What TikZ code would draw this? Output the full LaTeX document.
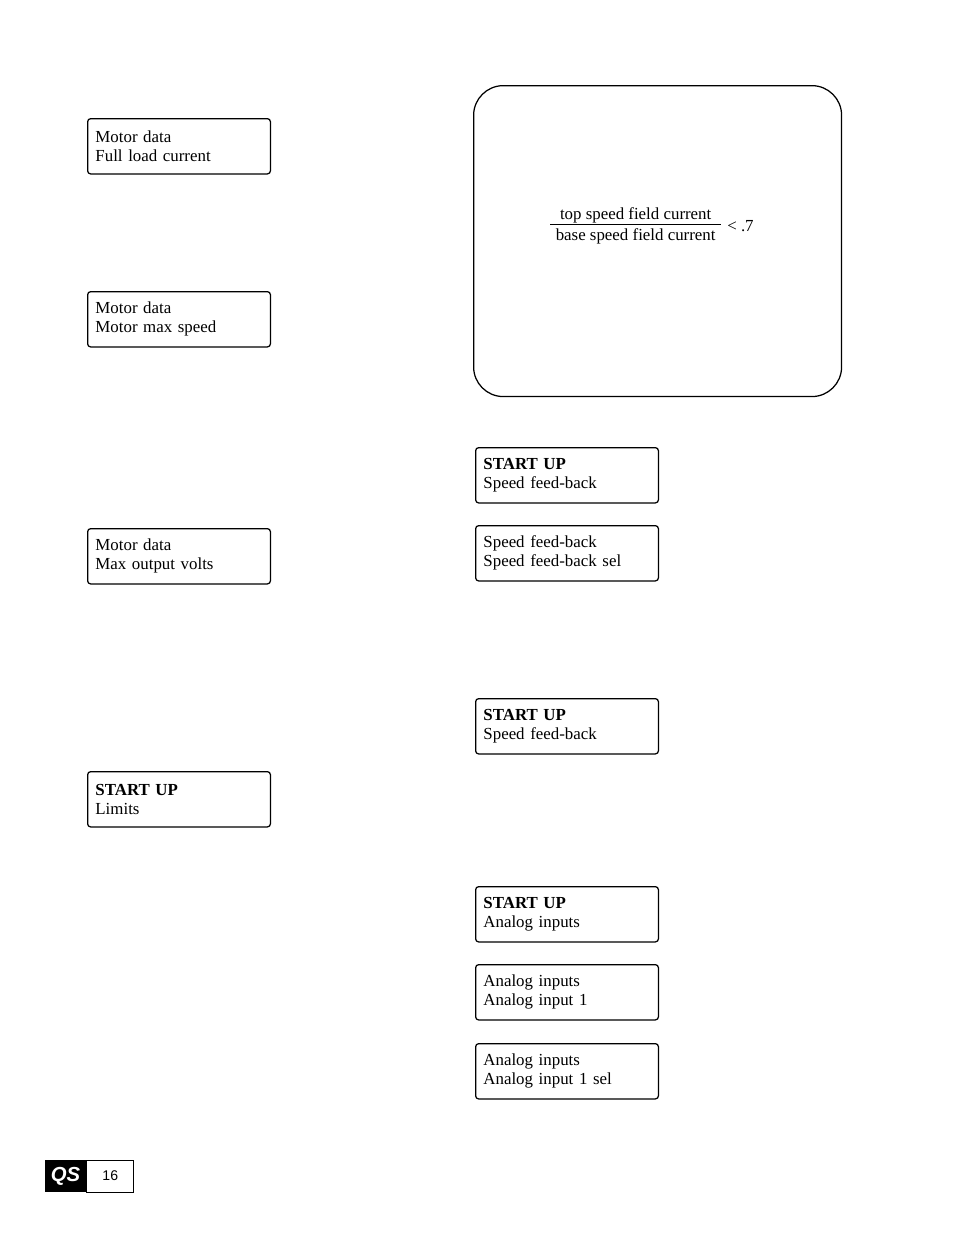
\documentclass[tikz,border=0pt]{standalone}
\usepackage{amsmath}
\usepackage{fontspec}
\setmainfont{Liberation Serif}
\newfontfamily\footfont{Liberation Sans}
\usetikzlibrary{positioning}
\tikzset{
  % keypad display boxes
  menubox/.style={draw, rounded corners=2pt, line width=0.8pt,
                  anchor=north west, minimum width=117pt,
                  minimum height=35.4pt, text width=107pt,
                  inner xsep=5pt, inner ysep=0pt, align=left,
                  font=\fontsize{10.8}{12.2}\selectfont},
  notebox/.style={draw, rounded corners=19pt, line width=0.8pt,
                  anchor=north west, minimum width=235.5pt,
                  minimum height=199pt, inner sep=0pt},
  ratio/.style  ={font=\fontsize{10.8}{12.2}\selectfont, inner sep=0pt},
  qsbox/.style  ={fill=black, text=white, minimum width=26.3pt,
                  minimum height=20.5pt, inner sep=0pt,
                  font=\footfont\bfseries\itshape\fontsize{13}{14}\selectfont},
  pgbox/.style  ={draw, line width=0.6pt, minimum width=30pt,
                  minimum height=20.5pt, inner sep=0pt,
                  font=\footfont\fontsize{9}{10}\selectfont},
}
\begin{document}
\begin{tikzpicture}[x=0.64pt, y=-0.64pt]
  \useasboundingbox (0,0) rectangle (954,1235);
  % ---- left column
  \node[menubox] (mfull) at (87,118) {Motor data\\Full load current};
  \node[menubox] (mspd)  at (87,291) {Motor data\\Motor max speed};
  \node[menubox] (mvolt) at (87,528) {Motor data\\Max output volts};
  \node[menubox] (slim)  at (87,771) {\textbf{START UP}\\Limits};
  % ---- field weakening note
  \node[notebox] (note) at (473,85) {};
  \node[ratio] (frac) at (652,226)
    {\begin{tabular}{@{\hspace{3.5pt}}c@{\hspace{3.5pt}}}
       top speed field current\\[-0.8pt] \hline\noalign{\vskip 1.6pt}
       base speed field current
     \end{tabular}\hspace{4pt}\raisebox{-0.5pt}{\textless\ .7}};
  % ---- right column
  \node[menubox] (sfb1)  at (475,447)  {\textbf{START UP}\\Speed feed-back};
  \node[menubox] (sfbs)  at (475,525)  {Speed feed-back\\Speed feed-back sel};
  \node[menubox] (sfb2)  at (475,698)  {\textbf{START UP}\\Speed feed-back};
  \node[menubox] (sain)  at (475,886)  {\textbf{START UP}\\Analog inputs};
  \node[menubox] (ain1)  at (475,964)  {Analog inputs\\Analog input 1};
  \node[menubox] (ain1s) at (475,1043) {Analog inputs\\Analog input 1 sel};
  % ---- page tag
  \node[qsbox] (qs) at (65.5,1176) {QS};
  \node[pgbox, right=0pt of qs] (pg) {16};
\end{tikzpicture}
\end{document}
